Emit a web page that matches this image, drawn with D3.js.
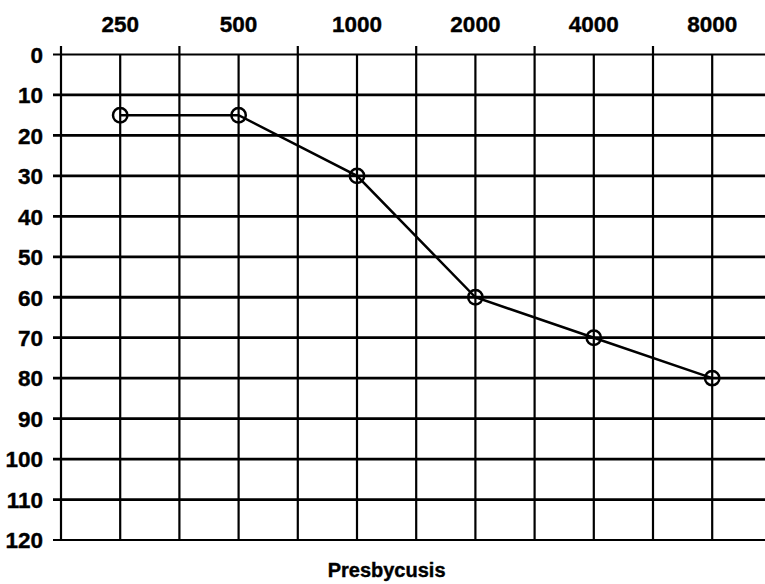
<!DOCTYPE html>
<html>
<head>
<meta charset="utf-8">
<script src="https://cdn.jsdelivr.net/npm/d3@7"></script>
<style>
  body { margin: 0; background: #fff; }
  text { font-family: "Liberation Sans", Arial, sans-serif; font-weight: bold; fill: #000; stroke: #000; stroke-width: 0.4px; }
</style>
</head>
<body>
<div id="chart"></div>
<script>
const frequencies = [250, 500, 1000, 2000, 4000, 8000];
const thresholds = [15, 15, 30, 60, 70, 80];
const levelTicks = [0, 10, 20, 30, 40, 50, 60, 70, 80, 90, 100, 110, 120];
const chartTitle = "Presbycusis";

const width = 765;
const height = 584;

const svg = d3.select("#chart")
    .append("svg")
    .attr("width", width)
    .attr("height", height);

// log2 frequency axis, half an octave padding each side
const x = d3.scaleLog()
    .base(2)
    .domain([250 / Math.SQRT2, 8000 * Math.SQRT2])
    .range([61, 61 + 118.4 * 6]);

const y = d3.scaleLinear()
    .domain([0, 120])
    .range([54.5, 540]);

const halfOctaves = frequencies.map(f => f / Math.SQRT2);

// horizontal grid
svg.append("g")
    .selectAll("line")
    .data(levelTicks)
    .enter()
    .append("line")
    .attr("x1", 53)
    .attr("x2", x.range()[1])
    .attr("y1", d => y(d))
    .attr("y2", d => y(d))
    .attr("stroke", "#000")
    .attr("stroke-width", d => (d === 0 || d === 120) ? 2.2 : 2.8);

// half-octave lines poke above the top line
svg.append("g")
    .selectAll("line")
    .data(halfOctaves)
    .enter()
    .append("line")
    .attr("x1", d => x(d))
    .attr("x2", d => x(d))
    .attr("y1", 46)
    .attr("y2", y(120) + 1)
    .attr("stroke", "#000")
    .attr("stroke-width", 2.2);

// octave lines
svg.append("g")
    .selectAll("line")
    .data(frequencies)
    .enter()
    .append("line")
    .attr("x1", d => x(d))
    .attr("x2", d => x(d))
    .attr("y1", y(0))
    .attr("y2", y(120) + 1)
    .attr("stroke", "#000")
    .attr("stroke-width", 2.2);

// labels
svg.append("g")
    .selectAll("text")
    .data(frequencies)
    .enter()
    .append("text")
    .attr("x", d => x(d))
    .attr("y", 32)
    .attr("text-anchor", "middle")
    .style("font-size", "22.5px")
    .text(d => d);

svg.append("g")
    .selectAll("text")
    .data(levelTicks)
    .enter()
    .append("text")
    .attr("x", 43)
    .attr("y", d => y(d))
    .attr("dy", "0.37em")
    .attr("text-anchor", "end")
    .style("font-size", "22.5px")
    .text(d => d);

const points = frequencies.map((f, i) => ({ f: f, db: thresholds[i] }));

svg.append("path")
    .datum(points)
    .attr("fill", "none")
    .attr("stroke", "#000")
    .attr("stroke-width", 2.5)
    .attr("d", d3.line().x(d => x(d.f)).y(d => y(d.db)));

svg.selectAll(".pt")
    .data(points)
    .enter()
    .append("circle")
    .attr("class", "pt")
    .attr("cx", d => x(d.f))
    .attr("cy", d => y(d.db))
    .attr("r", 7.2)
    .attr("fill", "none")
    .attr("stroke", "#000")
    .attr("stroke-width", 2.5);

svg.append("text")
    .attr("x", (x.range()[0] + x(8000)) / 2)
    .attr("y", 577)
    .attr("text-anchor", "middle")
    .style("font-size", "20px")
    .text(chartTitle);
</script>
</body>
</html>
